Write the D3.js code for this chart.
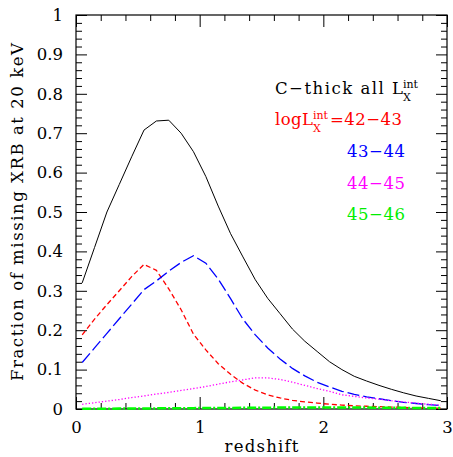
<!DOCTYPE html>
<html>
<head>
<meta charset="utf-8">
<script src="https://cdn.jsdelivr.net/npm/d3@7"></script>
<style>
  body { margin: 0; background: #fff; }
  svg { display: block; }
  text { font-family: "DejaVu Serif", serif; }
</style>
</head>
<body>
<div id="chart"></div>
<script>
// redshift grid (bin centres)
const redshift = [0.05,0.15,0.25,0.35,0.45,0.55,0.65,0.75,0.85,0.95,1.05,1.15,1.25,1.35,1.45,1.55,1.65,1.75,1.85,1.95,2.05,2.15,2.25,2.35,2.45,2.55,2.65,2.75,2.85,2.95];

// fraction of missing XRB at 20 keV
const allLx  = [0.320,0.410,0.500,0.570,0.640,0.708,0.731,0.733,0.700,0.653,0.590,0.515,0.445,0.386,0.328,0.281,0.242,0.203,0.172,0.146,0.120,0.100,0.083,0.071,0.060,0.050,0.041,0.033,0.027,0.021];
const lx4243 = [0.188,0.228,0.265,0.300,0.336,0.367,0.352,0.305,0.252,0.190,0.150,0.115,0.088,0.065,0.048,0.036,0.028,0.022,0.018,0.015,0.012,0.010,0.008,0.007,0.006,0.005,0.004,0.003,0.003,0.002];
const lx4344 = [0.118,0.155,0.192,0.229,0.266,0.303,0.325,0.350,0.372,0.389,0.370,0.330,0.280,0.228,0.188,0.155,0.127,0.103,0.084,0.068,0.056,0.045,0.037,0.031,0.026,0.021,0.017,0.014,0.011,0.009];
const lx4445 = [0.012,0.016,0.020,0.024,0.029,0.033,0.038,0.042,0.047,0.052,0.057,0.063,0.069,0.074,0.079,0.079,0.075,0.068,0.060,0.052,0.045,0.036,0.032,0.028,0.025,0.021,0.018,0.015,0.012,0.010];
const lx4546 = [0.0005,0.0006,0.0008,0.0010,0.0012,0.0014,0.0016,0.0018,0.0020,0.0022,0.0024,0.0026,0.0028,0.0030,0.0032,0.0034,0.0036,0.0037,0.0038,0.0038,0.0038,0.0037,0.0036,0.0035,0.0033,0.0031,0.0029,0.0027,0.0025,0.0023];

const xMajor = [0,1,2,3];
const xMinor = [0.2,0.4,0.6,0.8,1.2,1.4,1.6,1.8,2.2,2.4,2.6,2.8];
const yMajor = [0,0.1,0.2,0.3,0.4,0.5,0.6,0.7,0.8,0.9,1];
const yMinor = d3.range(0,51).filter(i => i%5 != 0).map(i => i/50);

const series = [
  {vals: allLx,  color: "#000000", dash: null,      width: 1},
  {vals: lx4243, color: "#ff0000", dash: "5,3",     width: 1.3},
  {vals: lx4344, color: "#0000ff", dash: "12,4",    width: 1.3},
  {vals: lx4445, color: "#ff00ff", dash: "1.3,2",   width: 1.3},
  {vals: lx4546, color: "#00ff00", dash: "9,2,2,2", width: 2.5}
];

const W = 453, H = 457;
const margin = {left: 76, right: 6, top: 15, bottom: 48};
const iw = W - margin.left - margin.right;
const ih = H - margin.top - margin.bottom;
const FS = "16.5px";

const svg = d3.select("#chart").append("svg").attr("width", W).attr("height", H);
const g = svg.append("g").attr("transform", `translate(${margin.left},${margin.top})`);

const x = d3.scaleLinear().domain([0,3]).range([0,iw]);
const y = d3.scaleLinear().domain([0,1]).range([ih,0]);

g.append("clipPath").attr("id","clip").append("rect").attr("x",-2).attr("y",-2).attr("width", iw+4).attr("height", ih+4);

// axes, ticks pointing inwards on all four sides
function styleAxis(sel) {
  sel.select(".domain").remove();
  sel.selectAll("line").attr("stroke","#000");
  sel.selectAll("text").attr("fill","#000").style("font-size",FS).style("font-family","DejaVu Serif");
}
g.append("g").attr("transform",`translate(0,${ih})`)
  .call(d3.axisBottom(x).tickValues(xMajor).tickSize(-12).tickPadding(12).tickFormat(d3.format("d"))).call(styleAxis);
g.append("g").attr("transform",`translate(0,${ih})`)
  .call(d3.axisBottom(x).tickValues(xMinor).tickSize(-6).tickFormat("")).call(styleAxis);
g.append("g")
  .call(d3.axisTop(x).tickValues(xMajor).tickSize(-12).tickFormat("")).call(styleAxis);
g.append("g")
  .call(d3.axisTop(x).tickValues(xMinor).tickSize(-6).tickFormat("")).call(styleAxis);

g.append("g")
  .call(d3.axisLeft(y).tickValues(yMajor).tickSize(-11).tickPadding(13).tickFormat(d3.format("~g"))).call(styleAxis);
g.append("g")
  .call(d3.axisLeft(y).tickValues(yMinor).tickSize(-6).tickFormat("")).call(styleAxis);
g.append("g").attr("transform",`translate(${iw},0)`)
  .call(d3.axisRight(y).tickValues(yMajor).tickSize(-11).tickFormat("")).call(styleAxis);
g.append("g").attr("transform",`translate(${iw},0)`)
  .call(d3.axisRight(y).tickValues(yMinor).tickSize(-6).tickFormat("")).call(styleAxis);

g.append("rect").attr("width", iw).attr("height", ih)
  .attr("fill","none").attr("stroke","#000").attr("stroke-width",1.2);

// curves (drawn over the frame, like the original)
const line = d3.line().x((d,i) => x(redshift[i])).y(d => y(d));
const lines = g.append("g").attr("clip-path","url(#clip)");
series.forEach(s => {
  lines.append("path")
    .attr("d", line(s.vals))
    .attr("fill","none")
    .attr("stroke", s.color)
    .attr("stroke-width", s.width)
    .attr("stroke-dasharray", s.dash);
});

// axis titles
svg.append("text").attr("x", margin.left + iw/2).attr("y", 452)
  .attr("text-anchor","middle").style("font-size",FS)
  .attr("textLength", 74).attr("lengthAdjust","spacing").text("redshift");
svg.append("text").attr("transform",`translate(23,${margin.top + ih/2}) rotate(-90)`)
  .attr("text-anchor","middle").style("font-size",FS)
  .attr("textLength", 338).attr("lengthAdjust","spacing").text("Fraction of missing XRB at 20 keV");

// legend text: one <text> per line, L^int_X as stacked super/subscript tspans
function label(x0, y0, color, parts) {
  const t = svg.append("text").attr("x", x0).attr("y", y0).attr("fill", color).style("font-size", FS);
  let cx = x0;
  parts.forEach(p => {
    if (p.stack) {
      t.append("tspan").attr("x", cx).attr("y", y0 - 6).style("font-size","11px").text(p.sup);
      t.append("tspan").attr("x", cx).attr("y", y0 + 7).style("font-size","11px").text(p.sub);
      cx += 17;
    } else {
      t.append("tspan").attr("x", cx).attr("y", y0)
        .attr("textLength", p.len).attr("lengthAdjust","spacing").text(p.txt);
      cx += p.len;
    }
  });
}
label(275, 94, "#000", [{txt: "C\u2212thick all L", len: 128}, {stack: true, sup: "int", sub: "X"}]);
label(275, 125, "#ff0000", [{txt: "logL", len: 38}, {stack: true, sup: "int", sub: "X"}, {txt: "=42\u221243", len: 72}]);
label(347, 157, "#0000ff", [{txt: "43\u221244", len: 58}]);
label(347, 189, "#ff00ff", [{txt: "44\u221245", len: 58}]);
label(347, 220, "#00ee00", [{txt: "45\u221246", len: 58}]);
</script>
</body>
</html>
